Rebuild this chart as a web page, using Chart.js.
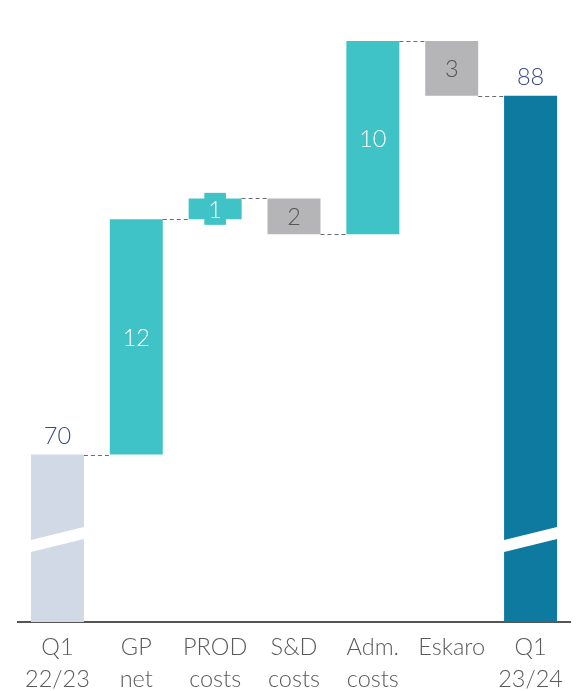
<!DOCTYPE html>
<html>
<head>
<meta charset="utf-8">
<script src="https://cdn.jsdelivr.net/npm/chart.js@4.4.1/dist/chart.umd.min.js"></script>
<style>
  html, body { margin: 0; padding: 0; background: #fff; }
  #wrap { width: 581px; height: 691px; }
</style>
</head>
<body>
<div id="wrap"><canvas id="grafico"></canvas></div>
<script>
// Dados do gráfico (cascata)
const categorias = [['Q1', '22/23'], ['GP', 'net'], ['PROD', 'costs'], ['S&D', 'costs'], ['Adm.', 'costs'], ['Eskaro'], ['Q1', '23/24']];
const valores = [70, 11.8, 1.05, -1.8, 9.7, -2.75, 88];
const tipos = ['total', 'delta', 'delta', 'delta', 'delta', 'delta', 'total'];
const eixoMin = 61.6;
const eixoMax = 92.4;
const quebraValor = 65.4;

const corInicio = '#d2d9e6';
const corFim = '#0e7a9f';
const corSobe = '#40c3c7';
const corDesce = '#b5b5b7';

// Monta as faixas flutuantes a partir dos valores
let acumulado = 0;
const faixas = valores.map((v, i) => {
    if (tipos[i] === 'total') {
        acumulado = v;
        return [eixoMin, v];
    }
    const ini = acumulado;
    acumulado += v;
    return [ini, acumulado];
});

const cores = valores.map((v, i) => {
    if (tipos[i] === 'total') return i === 0 ? corInicio : corFim;
    return v >= 0 ? corSobe : corDesce;
});

const fonte = '300 23.5px Lato';

// Plugin: linhas tracejadas, quebras e rótulos
const extras = {
    id: 'extras',
    afterDatasetsDraw(chart) {
        const ctx = chart.ctx;
        const meta = chart.getDatasetMeta(0);
        const y = chart.scales.y;

        // Linhas tracejadas entre as barras
        ctx.save();
        ctx.strokeStyle = '#6b6b6b';
        ctx.lineWidth = 1;
        ctx.setLineDash([4, 3]);
        for (let i = 0; i < meta.data.length - 1; i++) {
            const a = meta.data[i], b = meta.data[i + 1];
            const py = Math.round(y.getPixelForValue(faixas[i][1])) + 0.5;
            ctx.beginPath();
            ctx.moveTo(a.x + a.width / 2, py);
            ctx.lineTo(b.x - b.width / 2, py);
            ctx.stroke();
        }
        ctx.restore();

        // Quebra do eixo nas barras de total
        ctx.save();
        ctx.fillStyle = '#ffffff';
        meta.data.forEach((bar, i) => {
            if (tipos[i] !== 'total') return;
            const yc = y.getPixelForValue(quebraValor);
            const x0 = bar.x - bar.width / 2 - 1;
            const x1 = bar.x + bar.width / 2 + 1;
            ctx.beginPath();
            ctx.moveTo(x0, yc - 6);
            ctx.lineTo(x1, yc - 6 - 13.5);
            ctx.lineTo(x1, yc + 6 - 13.5);
            ctx.lineTo(x0, yc + 6);
            ctx.closePath();
            ctx.fill();
        });
        ctx.restore();

        // Rótulos
        ctx.save();
        ctx.font = fonte;
        ctx.textAlign = 'center';
        ctx.textBaseline = 'middle';
        meta.data.forEach((bar, i) => {
            const txt = String(Math.round(Math.abs(valores[i])));
            if (tipos[i] === 'total') {
                ctx.fillStyle = '#3c4a8a';
                ctx.fillText(txt, bar.x, y.getPixelForValue(valores[i]) - 18);
                return;
            }
            const topo = y.getPixelForValue(Math.max(faixas[i][0], faixas[i][1]));
            const base = y.getPixelForValue(Math.min(faixas[i][0], faixas[i][1]));
            const cy = (topo + base) / 2;
            const w = ctx.measureText(txt).width + 8;
            ctx.fillStyle = cores[i];
            ctx.fillRect(bar.x - w / 2, cy - 16, w, 32);
            ctx.fillStyle = valores[i] >= 0 ? '#ffffff' : '#555555';
            ctx.fillText(txt, bar.x, cy + 1.5);
        });
        ctx.restore();
    }
};

new Chart(document.getElementById('grafico'), {
    type: 'bar',
    data: {
        labels: categorias,
        datasets: [{
            data: faixas,
            backgroundColor: cores,
            borderWidth: 0,
            barPercentage: 1,
            categoryPercentage: 0.672
        }]
    },
    options: {
        responsive: true,
        maintainAspectRatio: false,
        animation: false,
        layout: { padding: { top: 8, left: 18, right: 11, bottom: 0 } },
        plugins: {
            legend: { display: false },
            tooltip: { enabled: false }
        },
        scales: {
            y: {
                display: false,
                min: eixoMin,
                max: eixoMax
            },
            x: {
                grid: { display: false, drawTicks: false },
                border: { display: true, color: '#555555', width: 2 },
                ticks: {
                    color: '#5a5a5a',
                    padding: 9,
                    font: { family: 'Lato', size: 23.5, weight: 300, lineHeight: 32 / 23.5 }
                },
                afterFit(scale) { scale.height = 69; }
            }
        }
    },
    plugins: [extras]
});
</script>
</body>
</html>
